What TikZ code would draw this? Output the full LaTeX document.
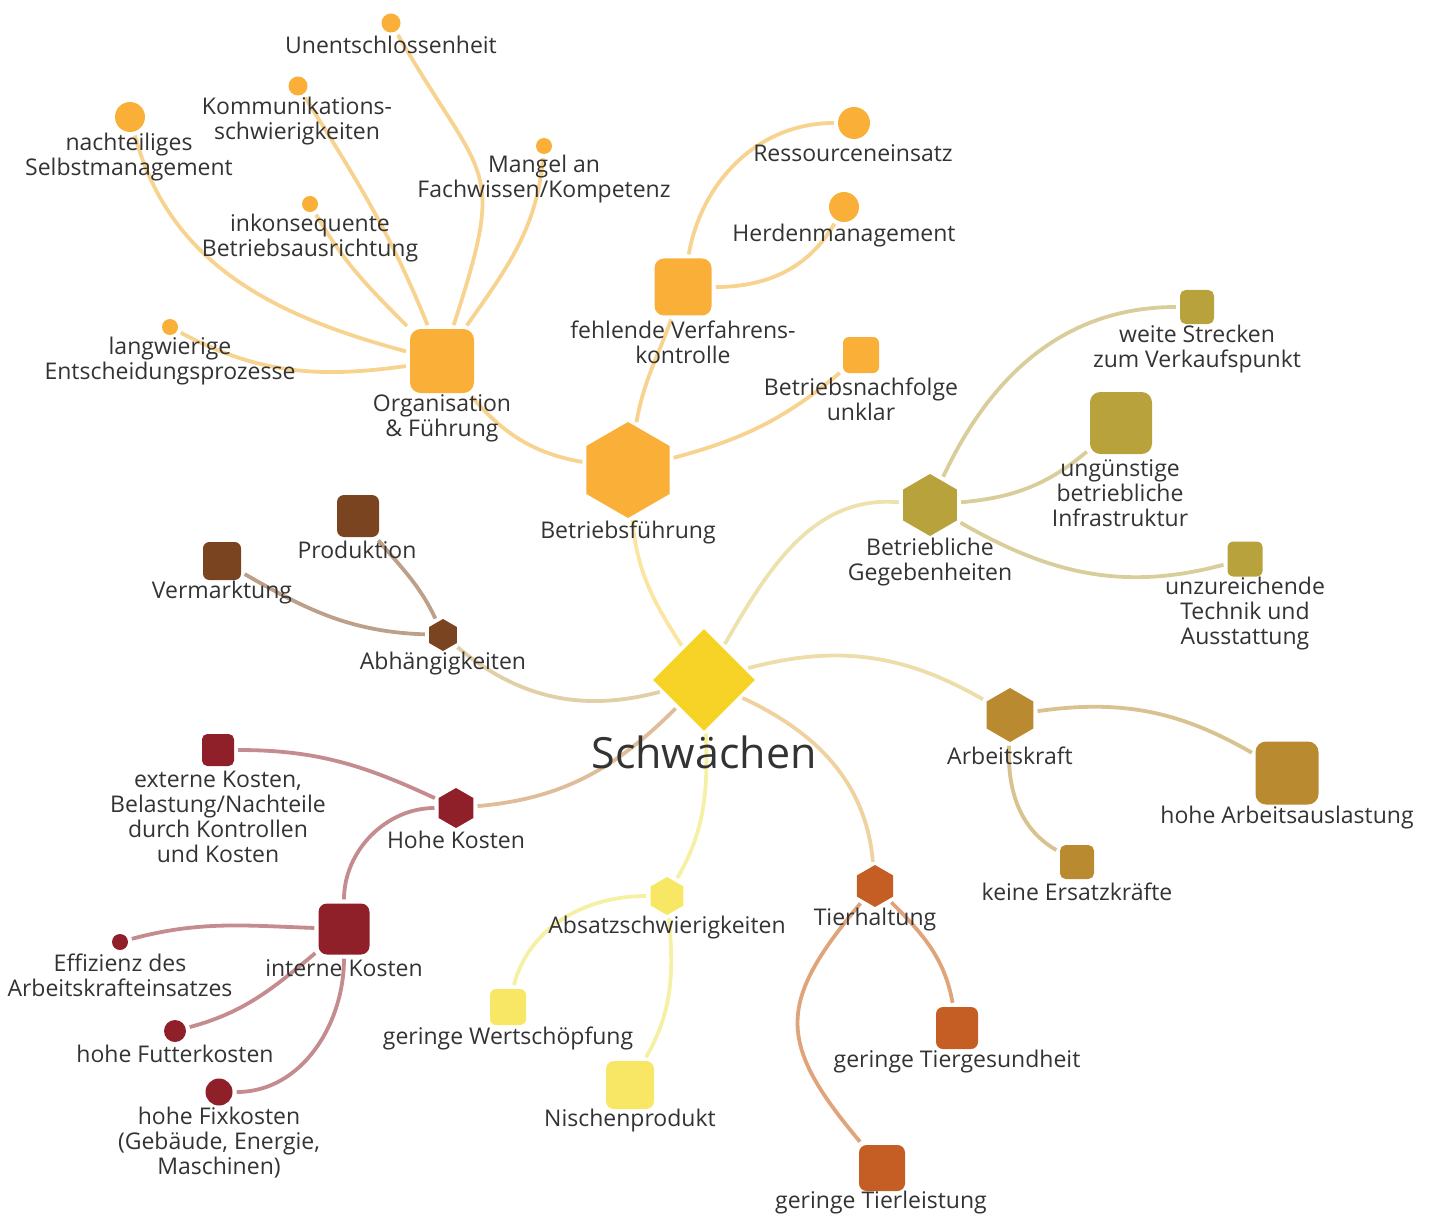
\documentclass[tikz,border=0pt]{standalone}
\usepackage{fontspec}
\setmainfont{Open Sans}
\usetikzlibrary{shapes.geometric,backgrounds}

\definecolor{txt}{HTML}{333333}
\definecolor{cSchw}{HTML}{F6D326}
\definecolor{cBf}{HTML}{F9AF38}
\definecolor{cBg}{HTML}{B8A23C}
\definecolor{cAk}{HTML}{B98A2F}
\definecolor{cTh}{HTML}{C45E24}
\definecolor{cAs}{HTML}{F7E765}
\definecolor{cHk}{HTML}{8F2029}
\definecolor{cAb}{HTML}{7A4420}
% lighter tones for the links
\definecolor{lBf}{HTML}{F8D390}
\definecolor{lBg}{HTML}{D9CD9B}
\definecolor{lAk}{HTML}{D8C28F}
\definecolor{lTh}{HTML}{DFA47A}
\definecolor{lAs}{HTML}{F6F0A4}
\definecolor{lHk}{HTML}{C48C8E}
\definecolor{lAb}{HTML}{BCA08A}

\begin{document}
\begin{tikzpicture}[x=1pt,y=1pt,
    every node/.style={inner sep=0pt},
    hexa/.style={regular polygon, regular polygon sides=6, shape border rotate=30, minimum size=#1},
    squ/.style={rectangle, minimum size=#1, rounded corners=#1/6},
    dot/.style={circle, minimum size=#1},
    lbl/.style={align=center, text=txt, font=\fontsize{23}{25}\selectfont, yshift=-2pt},
    link/.style={draw=#1, line width=3.8pt, shorten <=4pt, shorten >=4pt}]

    \useasboundingbox (0,0) rectangle (1431,-1214);

    % centre
    \node[diamond, minimum size=102pt, fill=cSchw] (schw) at (704,-680) {};
    \node[text=txt, font=\fontsize{43}{48}\selectfont] (schw-l) at (704,-752) {Schwächen};

    % Betriebsfuehrung
    \node[hexa=96pt, fill=cBf] (bf) at (628,-470) {};
    \node[lbl] (bf-l) at (628,-530) {Betriebsführung};
    \node[squ=64pt, fill=cBf] (org) at (442,-361) {};
    \node[lbl] (org-l) at (442,-416) {Organisation\\\& Führung};
    \node[squ=57pt, fill=cBf] (fvk) at (683,-287) {};
    \node[lbl] (fvk-l) at (683,-340) {fehlende Verfahrens-\\kontrolle};
    \node[squ=36pt, fill=cBf] (bnf) at (861,-355) {};
    \node[lbl] (bnf-l) at (861,-397) {Betriebsnachfolge\\unklar};
    \node[dot=19pt, fill=cBf] (unent) at (391,-23) {};
    \node[lbl] (unent-l) at (391,-43) {Unentschlossenheit};
    \node[dot=19pt, fill=cBf] (komm) at (298,-86) {};
    \node[lbl] (komm-l) at (297,-119) {Kommunikations-\\schwierigkeiten};
    \node[dot=30pt, fill=cBf] (nsm) at (130,-117) {};
    \node[lbl] (nsm-l) at (129,-155) {nachteiliges\\Selbstmanagement};
    \node[dot=16pt, fill=cBf] (mang) at (544,-146) {};
    \node[lbl] (mang-l) at (544,-177) {Mangel an\\Fachwissen/Kompetenz};
    \node[dot=16pt, fill=cBf] (inko) at (310,-204) {};
    \node[lbl] (inko-l) at (310,-236) {inkonsequente\\Betriebsausrichtung};
    \node[dot=16pt, fill=cBf] (lang) at (170,-327) {};
    \node[lbl] (lang-l) at (170,-359) {langwierige\\Entscheidungsprozesse};
    \node[dot=32pt, fill=cBf] (ress) at (854,-123) {};
    \node[lbl] (ress-l) at (853,-151) {Ressourceneinsatz};
    \node[dot=30pt, fill=cBf] (herd) at (844,-207) {};
    \node[lbl] (herd-l) at (844,-234) {Herdenmanagement};

    % Betriebliche Gegebenheiten
    \node[hexa=62pt, fill=cBg] (bg) at (930,-505) {};
    \node[lbl] (bg-l) at (930,-560) {Betriebliche\\Gegebenheiten};
    \node[squ=34pt, fill=cBg] (ws) at (1197,-307) {};
    \node[lbl] (ws-l) at (1197,-347) {weite Strecken\\zum Verkaufspunkt};
    \node[squ=62pt, fill=cBg] (ubi) at (1121,-423) {};
    \node[lbl] (ubi-l) at (1120,-491) {ungünstige\\betriebliche\\Infrastruktur};
    \node[squ=35pt, fill=cBg] (uta) at (1245,-559) {};
    \node[lbl] (uta-l) at (1245,-612) {unzureichende\\Technik und\\Ausstattung};

    % Arbeitskraft
    \node[hexa=54pt, fill=cAk] (ak) at (1010,-715) {};
    \node[lbl] (ak-l) at (1010,-754) {Arbeitskraft};
    \node[squ=63pt, fill=cAk] (hal) at (1287,-773) {};
    \node[lbl] (hal-l) at (1287,-816) {hohe Arbeitsauslastung};
    \node[squ=34pt, fill=cAk] (ke) at (1077,-862) {};
    \node[lbl] (ke-l) at (1077,-890) {keine Ersatzkräfte};

    % Tierhaltung
    \node[hexa=42pt, fill=cTh] (th) at (875,-886) {};
    \node[lbl] (th-l) at (875,-918) {Tierhaltung};
    \node[squ=42pt, fill=cTh] (tg) at (957,-1028) {};
    \node[lbl] (tg-l) at (957,-1060) {geringe Tiergesundheit};
    \node[squ=46pt, fill=cTh] (tl) at (882,-1168) {};
    \node[lbl] (tl-l) at (881,-1201) {geringe Tierleistung};

    % Absatzschwierigkeiten
    \node[hexa=38pt, fill=cAs] (as) at (667,-896) {};
    \node[lbl] (as-l) at (667,-926) {Absatzschwierigkeiten};
    \node[squ=36pt, fill=cAs] (gw) at (508,-1007) {};
    \node[lbl] (gw-l) at (508,-1036) {geringe Wertschöpfung};
    \node[squ=48pt, fill=cAs] (np) at (630,-1085) {};
    \node[lbl] (np-l) at (630,-1119) {Nischenprodukt};

    % Hohe Kosten
    \node[hexa=40pt, fill=cHk] (hk) at (456,-808) {};
    \node[lbl] (hk-l) at (456,-838) {Hohe Kosten};
    \node[squ=32pt, fill=cHk] (ek) at (218,-750) {};
    \node[lbl] (ek-l) at (218,-815) {externe Kosten,\\Belastung/Nachteile\\durch Kontrollen\\und Kosten};
    \node[squ=51pt, fill=cHk] (ik) at (344,-929) {};
    \node[lbl] (ik-l) at (344,-966) {interne Kosten};
    \node[dot=16pt, fill=cHk] (eff) at (120,-942) {};
    \node[lbl] (eff-l) at (120,-973) {Effizienz des\\Arbeitskrafteinsatzes};
    \node[dot=22pt, fill=cHk] (hf) at (175,-1031) {};
    \node[lbl] (hf-l) at (175,-1052) {hohe Futterkosten};
    \node[dot=27pt, fill=cHk] (hfix) at (219,-1092) {};
    \node[lbl] (hfix-l) at (219,-1141) {hohe Fixkosten\\(Gebäude, Energie,\\Maschinen)};

    % Abhaengigkeiten
    \node[hexa=32pt, fill=cAb] (ab) at (443,-635) {};
    \node[lbl] (ab-l) at (443,-662) {Abhängigkeiten};
    \node[squ=42pt, fill=cAb] (prod) at (358,-516) {};
    \node[lbl] (prod-l) at (357,-548) {Produktion};
    \node[squ=38pt, fill=cAb] (verm) at (222,-561) {};
    \node[lbl] (verm-l) at (222,-591) {Vermarktung};

    \begin{scope}[on background layer]
    % from the centre
    \draw[link=lBf!60!cSchw!60] (schw) to[out=123,in=-85] (bf);
    \draw[link=lBg!70!cSchw!60] (schw) to[out=60,in=175] (bg);
    \draw[link=lAk!70!cSchw!60] (schw) to[out=15,in=150] (ak);
    \draw[link=lTh!70!cSchw!60] (schw) to[out=-25,in=95] (th);
    \draw[link=lAs] (schw) to[out=-88,in=60] (as);
    \draw[link=lHk!70!cSchw!70] (schw) to[out=-135,in=5] (hk);
    \draw[link=lAb!70!cSchw!60] (schw) to[out=195,in=-40] (ab);

    \draw[link=lBf] (bf) to[out=170,in=-50] (org);
    \draw[link=lBf] (bf) to[out=80,in=-110] (fvk);
    \draw[link=lBf] (bf) to[out=15,in=-140] (bnf);
    \draw[link=lBf] (org) to[out=72,in=-60,looseness=1.5] (unent);
    \draw[link=lBf] (org) to[out=112,in=-58] (komm);
    \draw[link=lBf] (org) to[out=55,in=-95] (mang);
    \draw[link=lBf] (org) to[out=135,in=-60] (inko);
    \draw[link=lBf] (org) to[out=165,in=-75] (nsm);
    \draw[link=lBf] (org) to[out=188,in=-28] (lang);
    \draw[link=lBf] (fvk) to[out=80,in=180] (ress);
    \draw[link=lBf] (fvk) to[out=0,in=-120] (herd);

    \draw[link=lBg] (bg) to[out=65,in=180] (ws);
    \draw[link=lBg] (bg) to[out=5,in=-140] (ubi);
    \draw[link=lBg] (bg) to[out=-30,in=195] (uta);

    \draw[link=lAk] (ak) to[out=8,in=150] (hal);
    \draw[link=lAk] (ak) to[out=-92,in=150] (ke);

    \draw[link=lTh] (th) to[out=-45,in=100] (tg);
    \draw[link=lTh] (th) to[out=-130,in=130,looseness=1.4] (tl);

    \draw[link=lAs] (as) to[out=180,in=75] (gw);
    \draw[link=lAs] (as) to[out=-85,in=60] (np);

    \draw[link=lHk] (hk) to[out=155,in=0] (ek);
    \draw[link=lHk] (hk) to[out=180,in=90] (ik);
    \draw[link=lHk] (ik) to[out=178,in=15] (eff);
    \draw[link=lHk] (ik) to[out=-140,in=15] (hf);
    \draw[link=lHk] (ik) to[out=-90,in=0] (hfix);

    \draw[link=lAb] (ab) to[out=115,in=-50] (prod);
    \draw[link=lAb] (ab) to[out=178,in=-30] (verm);
    \end{scope}
\end{tikzpicture}
\end{document}
